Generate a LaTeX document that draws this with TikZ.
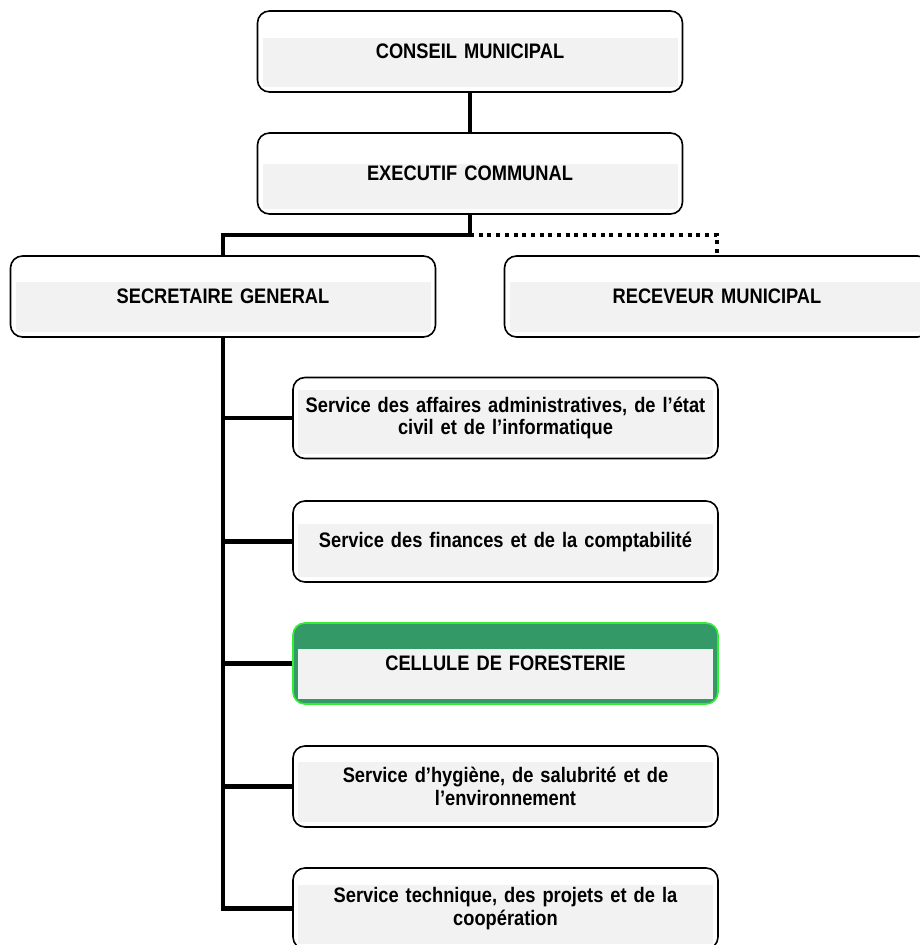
\documentclass[tikz,border=0pt]{standalone}
\usepackage{fontspec}
\setmainfont[FakeStretch=0.87]{Liberation Sans}
\usetikzlibrary{calc}
\definecolor{panelgray}{HTML}{F2F2F2}
\definecolor{forestfill}{HTML}{339966}
\definecolor{forestedge}{HTML}{33EE33}
\tikzset{
  gtop/.initial=26,
  gside/.initial=5,
  orgbox/.style={
    draw=black, line width=1.6pt, rounded corners=12pt, fill=white,
    minimum width=425pt, minimum height=81pt, inner sep=0pt,
    align=center, text width=410pt,
    font=\fontsize{21}{22.5}\selectfont\bfseries,
    path picture={
      \fill[panelgray, sharp corners]
        ($(path picture bounding box.north west)+(\pgfkeysvalueof{/tikz/gside}pt,-\pgfkeysvalueof{/tikz/gtop}pt)$)
        rectangle
        ($(path picture bounding box.south east)+(-\pgfkeysvalueof{/tikz/gside}pt,\pgfkeysvalueof{/tikz/gside}pt)$);
    }
  },
  forestbox/.style={orgbox, draw=forestedge, fill=forestfill},
  link/.style={line width=4.5pt, line join=miter},
  dotlink/.style={line width=4.5pt, dash pattern=on 4pt off 4.7pt}
}
\begin{document}
\begin{tikzpicture}[x=1pt, y=-1pt]
  \useasboundingbox (0,0) rectangle (920,945);
  \clip (0,0) rectangle (920,945);

  % top of the hierarchy
  \node[orgbox, gtop=27] (cm) at (470,51.5) {CONSEIL MUNICIPAL};
  \node[orgbox, gtop=31] (ec) at (470,173.5) {EXECUTIF COMMUNAL};
  \node[orgbox, gtop=26] (sg) at (223,296.5) {SECRETAIRE GENERAL};
  \node[orgbox, gtop=26] (rm) at (717,296.5) {RECEVEUR MUNICIPAL};

  % services under the secretary general
  \node[orgbox, gtop=12] (s1) at (505.5,418)
    {Service des affaires administratives, de l’état\\civil et de l’informatique};
  \node[orgbox, gtop=23] (s2) at (505.5,541.5)
    {Service des finances et de la comptabilité};
  \node[forestbox, gtop=26] (s3) at (505.5,663.5)
    {CELLULE DE FORESTERIE};
  \node[orgbox, gtop=16] (s4) at (505.5,786.5)
    {Service d’hygiène, de salubrité et de\\l’environnement};
  \node[orgbox, gtop=17] (s5) at (505.5,908.5)
    {Service technique, des projets et de la\\coopération};

  % connectors
  \coordinate (j) at (470,235);
  \draw[link] (cm.south) -- (ec.north);
  \draw[link] (ec.south) -- (j) -| (sg.north);
  \draw[dotlink] (j) -| (rm.north);

  \draw[link] (sg.south) |- (s5.west);
  \foreach \s in {s1,s2,s3,s4}
    \draw[link] (sg.south |- \s.west) -- (\s.west);
\end{tikzpicture}
\end{document}
